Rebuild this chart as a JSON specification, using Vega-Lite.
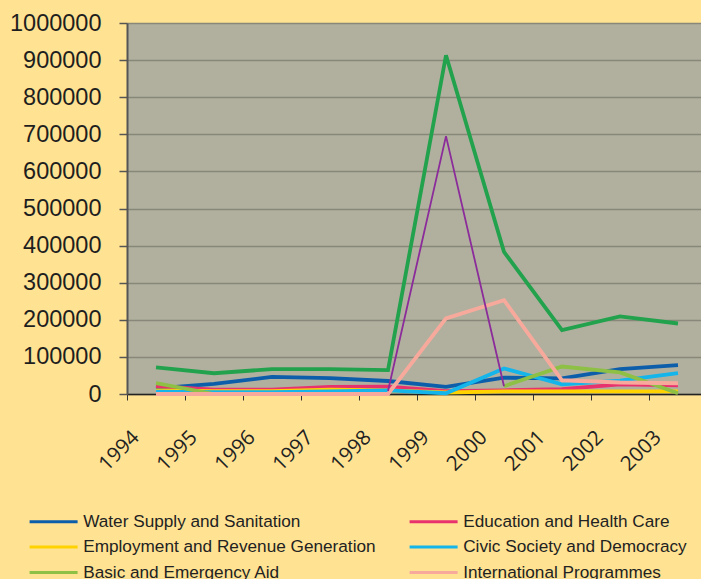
{
  "$schema": "https://vega.github.io/schema/vega-lite/v6.json",
  "width": 580,
  "height": 371,
  "autosize": {"type": "none"},
  "padding": {"left": 127, "top": 23, "right": 0, "bottom": 200},
  "background": "#FFE292",
  "title": {
    "text": "per sector and per year",
    "anchor": "start",
    "frame": "group",
    "dx": 360,
    "offset": 2,
    "baseline": "alphabetic",
    "font": "Open Sans",
    "fontSize": 20,
    "fontWeight": "normal",
    "color": "#333333"
  },
  "config": {
    "view": {"fill": "#B1B09F", "stroke": null}
  },
  "data": {
    "values": [
      {"year": "1994", "sector": "Water Supply and Sanitation", "value": 15000},
      {"year": "1995", "sector": "Water Supply and Sanitation", "value": 27000},
      {"year": "1996", "sector": "Water Supply and Sanitation", "value": 46000},
      {"year": "1997", "sector": "Water Supply and Sanitation", "value": 43000},
      {"year": "1998", "sector": "Water Supply and Sanitation", "value": 35000},
      {"year": "1999", "sector": "Water Supply and Sanitation", "value": 19000},
      {"year": "2000", "sector": "Water Supply and Sanitation", "value": 44000},
      {"year": "2001", "sector": "Water Supply and Sanitation", "value": 42000},
      {"year": "2002", "sector": "Water Supply and Sanitation", "value": 67000},
      {"year": "2003", "sector": "Water Supply and Sanitation", "value": 78000},

      {"year": "1994", "sector": "Education and Health Care", "value": 21000},
      {"year": "1995", "sector": "Education and Health Care", "value": 12000},
      {"year": "1996", "sector": "Education and Health Care", "value": 12000},
      {"year": "1997", "sector": "Education and Health Care", "value": 19000},
      {"year": "1998", "sector": "Education and Health Care", "value": 20000},
      {"year": "1999", "sector": "Education and Health Care", "value": 8000},
      {"year": "2000", "sector": "Education and Health Care", "value": 10000},
      {"year": "2001", "sector": "Education and Health Care", "value": 13000},
      {"year": "2002", "sector": "Education and Health Care", "value": 26000},
      {"year": "2003", "sector": "Education and Health Care", "value": 23000},

      {"year": "1994", "sector": "Employment and Revenue Generation", "value": 10000},
      {"year": "1995", "sector": "Employment and Revenue Generation", "value": 8000},
      {"year": "1996", "sector": "Employment and Revenue Generation", "value": 8000},
      {"year": "1997", "sector": "Employment and Revenue Generation", "value": 12000},
      {"year": "1998", "sector": "Employment and Revenue Generation", "value": 10000},
      {"year": "1999", "sector": "Employment and Revenue Generation", "value": 4000},
      {"year": "2000", "sector": "Employment and Revenue Generation", "value": 7000},
      {"year": "2001", "sector": "Employment and Revenue Generation", "value": 7000},
      {"year": "2002", "sector": "Employment and Revenue Generation", "value": 7000},
      {"year": "2003", "sector": "Employment and Revenue Generation", "value": 7000},

      {"year": "1994", "sector": "Civic Society and Democracy", "value": 6000},
      {"year": "1995", "sector": "Civic Society and Democracy", "value": 5000},
      {"year": "1996", "sector": "Civic Society and Democracy", "value": 5000},
      {"year": "1997", "sector": "Civic Society and Democracy", "value": 7000},
      {"year": "1998", "sector": "Civic Society and Democracy", "value": 10000},
      {"year": "1999", "sector": "Civic Society and Democracy", "value": 2000},
      {"year": "2000", "sector": "Civic Society and Democracy", "value": 69000},
      {"year": "2001", "sector": "Civic Society and Democracy", "value": 26000},
      {"year": "2002", "sector": "Civic Society and Democracy", "value": 36000},
      {"year": "2003", "sector": "Civic Society and Democracy", "value": 56000},

      {"year": "1994", "sector": "Basic and Emergency Aid", "value": 29000},
      {"year": "1995", "sector": "Basic and Emergency Aid", "value": 0},
      {"year": "1996", "sector": "Basic and Emergency Aid", "value": null},
      {"year": "1997", "sector": "Basic and Emergency Aid", "value": null},
      {"year": "1998", "sector": "Basic and Emergency Aid", "value": null},
      {"year": "1999", "sector": "Basic and Emergency Aid", "value": null},
      {"year": "2000", "sector": "Basic and Emergency Aid", "value": 21000},
      {"year": "2001", "sector": "Basic and Emergency Aid", "value": 74000},
      {"year": "2002", "sector": "Basic and Emergency Aid", "value": 58000},
      {"year": "2003", "sector": "Basic and Emergency Aid", "value": 2000},

      {"year": "1994", "sector": "International Programmes", "value": 0},
      {"year": "1995", "sector": "International Programmes", "value": 0},
      {"year": "1996", "sector": "International Programmes", "value": 0},
      {"year": "1997", "sector": "International Programmes", "value": 0},
      {"year": "1998", "sector": "International Programmes", "value": 0},
      {"year": "1999", "sector": "International Programmes", "value": 204000},
      {"year": "2000", "sector": "International Programmes", "value": 253000},
      {"year": "2001", "sector": "International Programmes", "value": 37000},
      {"year": "2002", "sector": "International Programmes", "value": 31000},
      {"year": "2003", "sector": "International Programmes", "value": 29000},

      {"year": "1998", "sector": "Emergency Reconstruction", "value": 8000},
      {"year": "1999", "sector": "Emergency Reconstruction", "value": 695000},
      {"year": "2000", "sector": "Emergency Reconstruction", "value": 21000},

      {"year": "1994", "sector": "Total", "value": 72000},
      {"year": "1995", "sector": "Total", "value": 56000},
      {"year": "1996", "sector": "Total", "value": 67000},
      {"year": "1997", "sector": "Total", "value": 67000},
      {"year": "1998", "sector": "Total", "value": 64500},
      {"year": "1999", "sector": "Total", "value": 913000},
      {"year": "2000", "sector": "Total", "value": 383000},
      {"year": "2001", "sector": "Total", "value": 172000},
      {"year": "2002", "sector": "Total", "value": 209000},
      {"year": "2003", "sector": "Total", "value": 190000}
    ]
  },
  "mark": {"type": "line", "invalid": "break-paths-filter-domains", "strokeJoin": "miter"},
  "encoding": {
    "x": {
      "field": "year",
      "type": "ordinal",
      "bandPosition": 0.5,
      "scale": {"type": "band", "paddingInner": 0, "paddingOuter": 0},
      "axis": {
        "title": null,
        "grid": false,
        "bandPosition": 0,
        "labelAngle": -45,
        "labelAlign": "right",
        "labelBaseline": "middle",
        "labelOffset": -20,
        "labelPadding": 34,
        "tickSize": 6,
        "tickColor": "#333333",
        "domainColor": "#222222",
        "domainWidth": 1.5,
        "labelFont": "Open Sans",
        "labelFontSize": 20.5,
        "labelColor": "#222222"
      }
    },
    "y": {
      "field": "value",
      "type": "quantitative",
      "scale": {"domain": [0, 1000000], "nice": false, "zero": true},
      "axis": {
        "title": null,
        "values": [0, 100000, 200000, 300000, 400000, 500000, 600000, 700000, 800000, 900000, 1000000],
        "format": "d",
        "labelFont": "Liberation Sans",
        "labelFontSize": 23.5,
        "labelColor": "#1e1e1e",
        "labelPadding": 18,
        "labelFlush": false,
        "labelOverlap": false,
        "tickSize": 8,
        "tickColor": "#555555",
        "tickWidth": 1.5,
        "domainColor": "#555555",
        "domainWidth": 2,
        "gridColor": "#88877A",
        "gridWidth": 1.5
      }
    },
    "color": {
      "field": "sector",
      "type": "nominal",
      "scale": {
        "domain": ["Water Supply and Sanitation", "Education and Health Care", "Employment and Revenue Generation", "Civic Society and Democracy", "Basic and Emergency Aid", "International Programmes", "Emergency Reconstruction", "Total"],
        "range": ["#0D5EAA", "#E8326E", "#FFD200", "#13B5EA", "#8DC044", "#F7AA9C", "#8B2C9A", "#23A24D"]
      },
      "legend": {
        "orient": "none",
        "legendX": -82,
        "legendY": 490,
        "columns": 2,
        "direction": "horizontal",
        "title": null,
        "symbolType": "M-4,0L4,0",
        "symbolSize": 144,
        "symbolStrokeWidth": 3,
        "labelFont": "Liberation Sans",
        "labelFontSize": 17.2,
        "labelColor": "#222222",
        "labelOffset": 21,
        "labelLimit": 400,
        "columnPadding": 27,
        "rowPadding": 7.5,
        "padding": 0
      }
    },
    "strokeWidth": {
      "condition": {"test": "datum.sector === 'Emergency Reconstruction'", "value": 1.8},
      "value": 3.8
    }
  }
}
